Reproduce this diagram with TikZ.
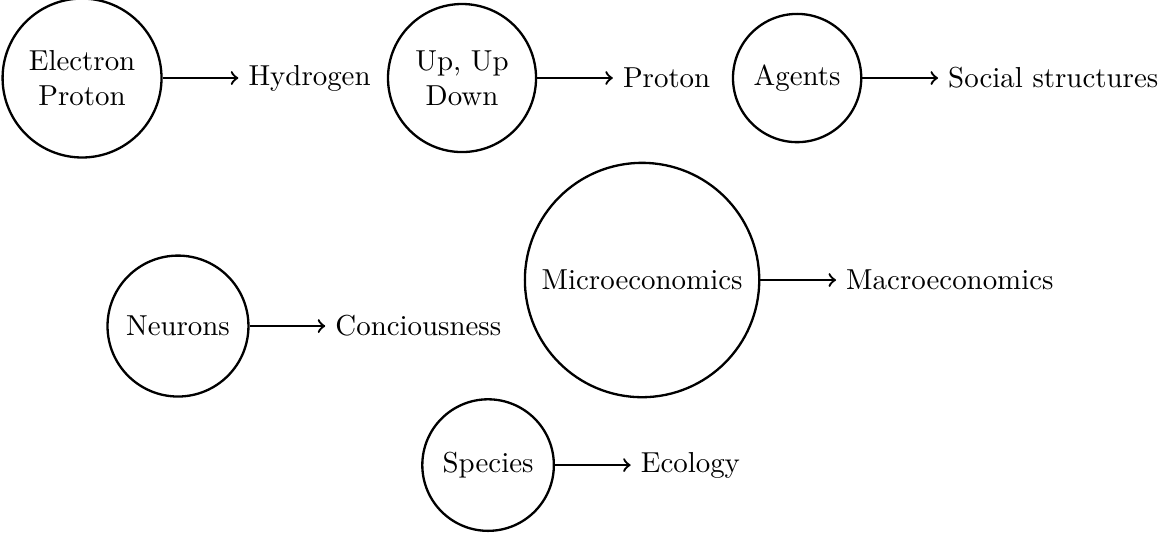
\documentclass[tikz,border=0pt]{standalone}
\usetikzlibrary{positioning}
\tikzset{
  level/.style={
    circle, draw, thick, align=center, inner sep=5pt
  },
  emergent/.style={
    align=center
  },
  arr/.style={
    ->, thick
  }
}
\begin{document}
\begin{tikzpicture}[node distance=0.92cm]
    \useasboundingbox (0,0) rectangle (14.11,-6.533);

    % lower levels
    \node (electron) [level] at (0.998,-0.949) {Electron\\Proton};
    \node (quarks)   [level] at (5.620,-0.949) {Up, Up\\Down};
    \node (agents)   [level] at (9.696,-0.949) {Agents};
    \node (neurons)  [level] at (2.165,-3.966) {Neurons};
    \node (micro)    [level] at (7.810,-3.406) {Microeconomics};
    \node (species)  [level] at (5.937,-5.657) {Species};

    % emergent levels
    \node (hydrogen) [emergent, right=of electron] {Hydrogen};
    \node (proton)   [emergent, right=of quarks] {Proton};
    \node (social)   [emergent, right=of agents] {Social structures};
    \node (mind)     [emergent, right=of neurons] {Conciousness};
    \node (macro)    [emergent, right=of micro] {Macroeconomics};
    \node (ecology)  [emergent, right=of species] {Ecology};

    % arrows
    \draw [arr] (electron) -- (hydrogen);
    \draw [arr] (quarks) -- (proton);
    \draw [arr] (agents) -- (social);
    \draw [arr] (neurons) -- (mind);
    \draw [arr] (micro) -- (macro);
    \draw [arr] (species) -- (ecology);

\end{tikzpicture}
\end{document}
